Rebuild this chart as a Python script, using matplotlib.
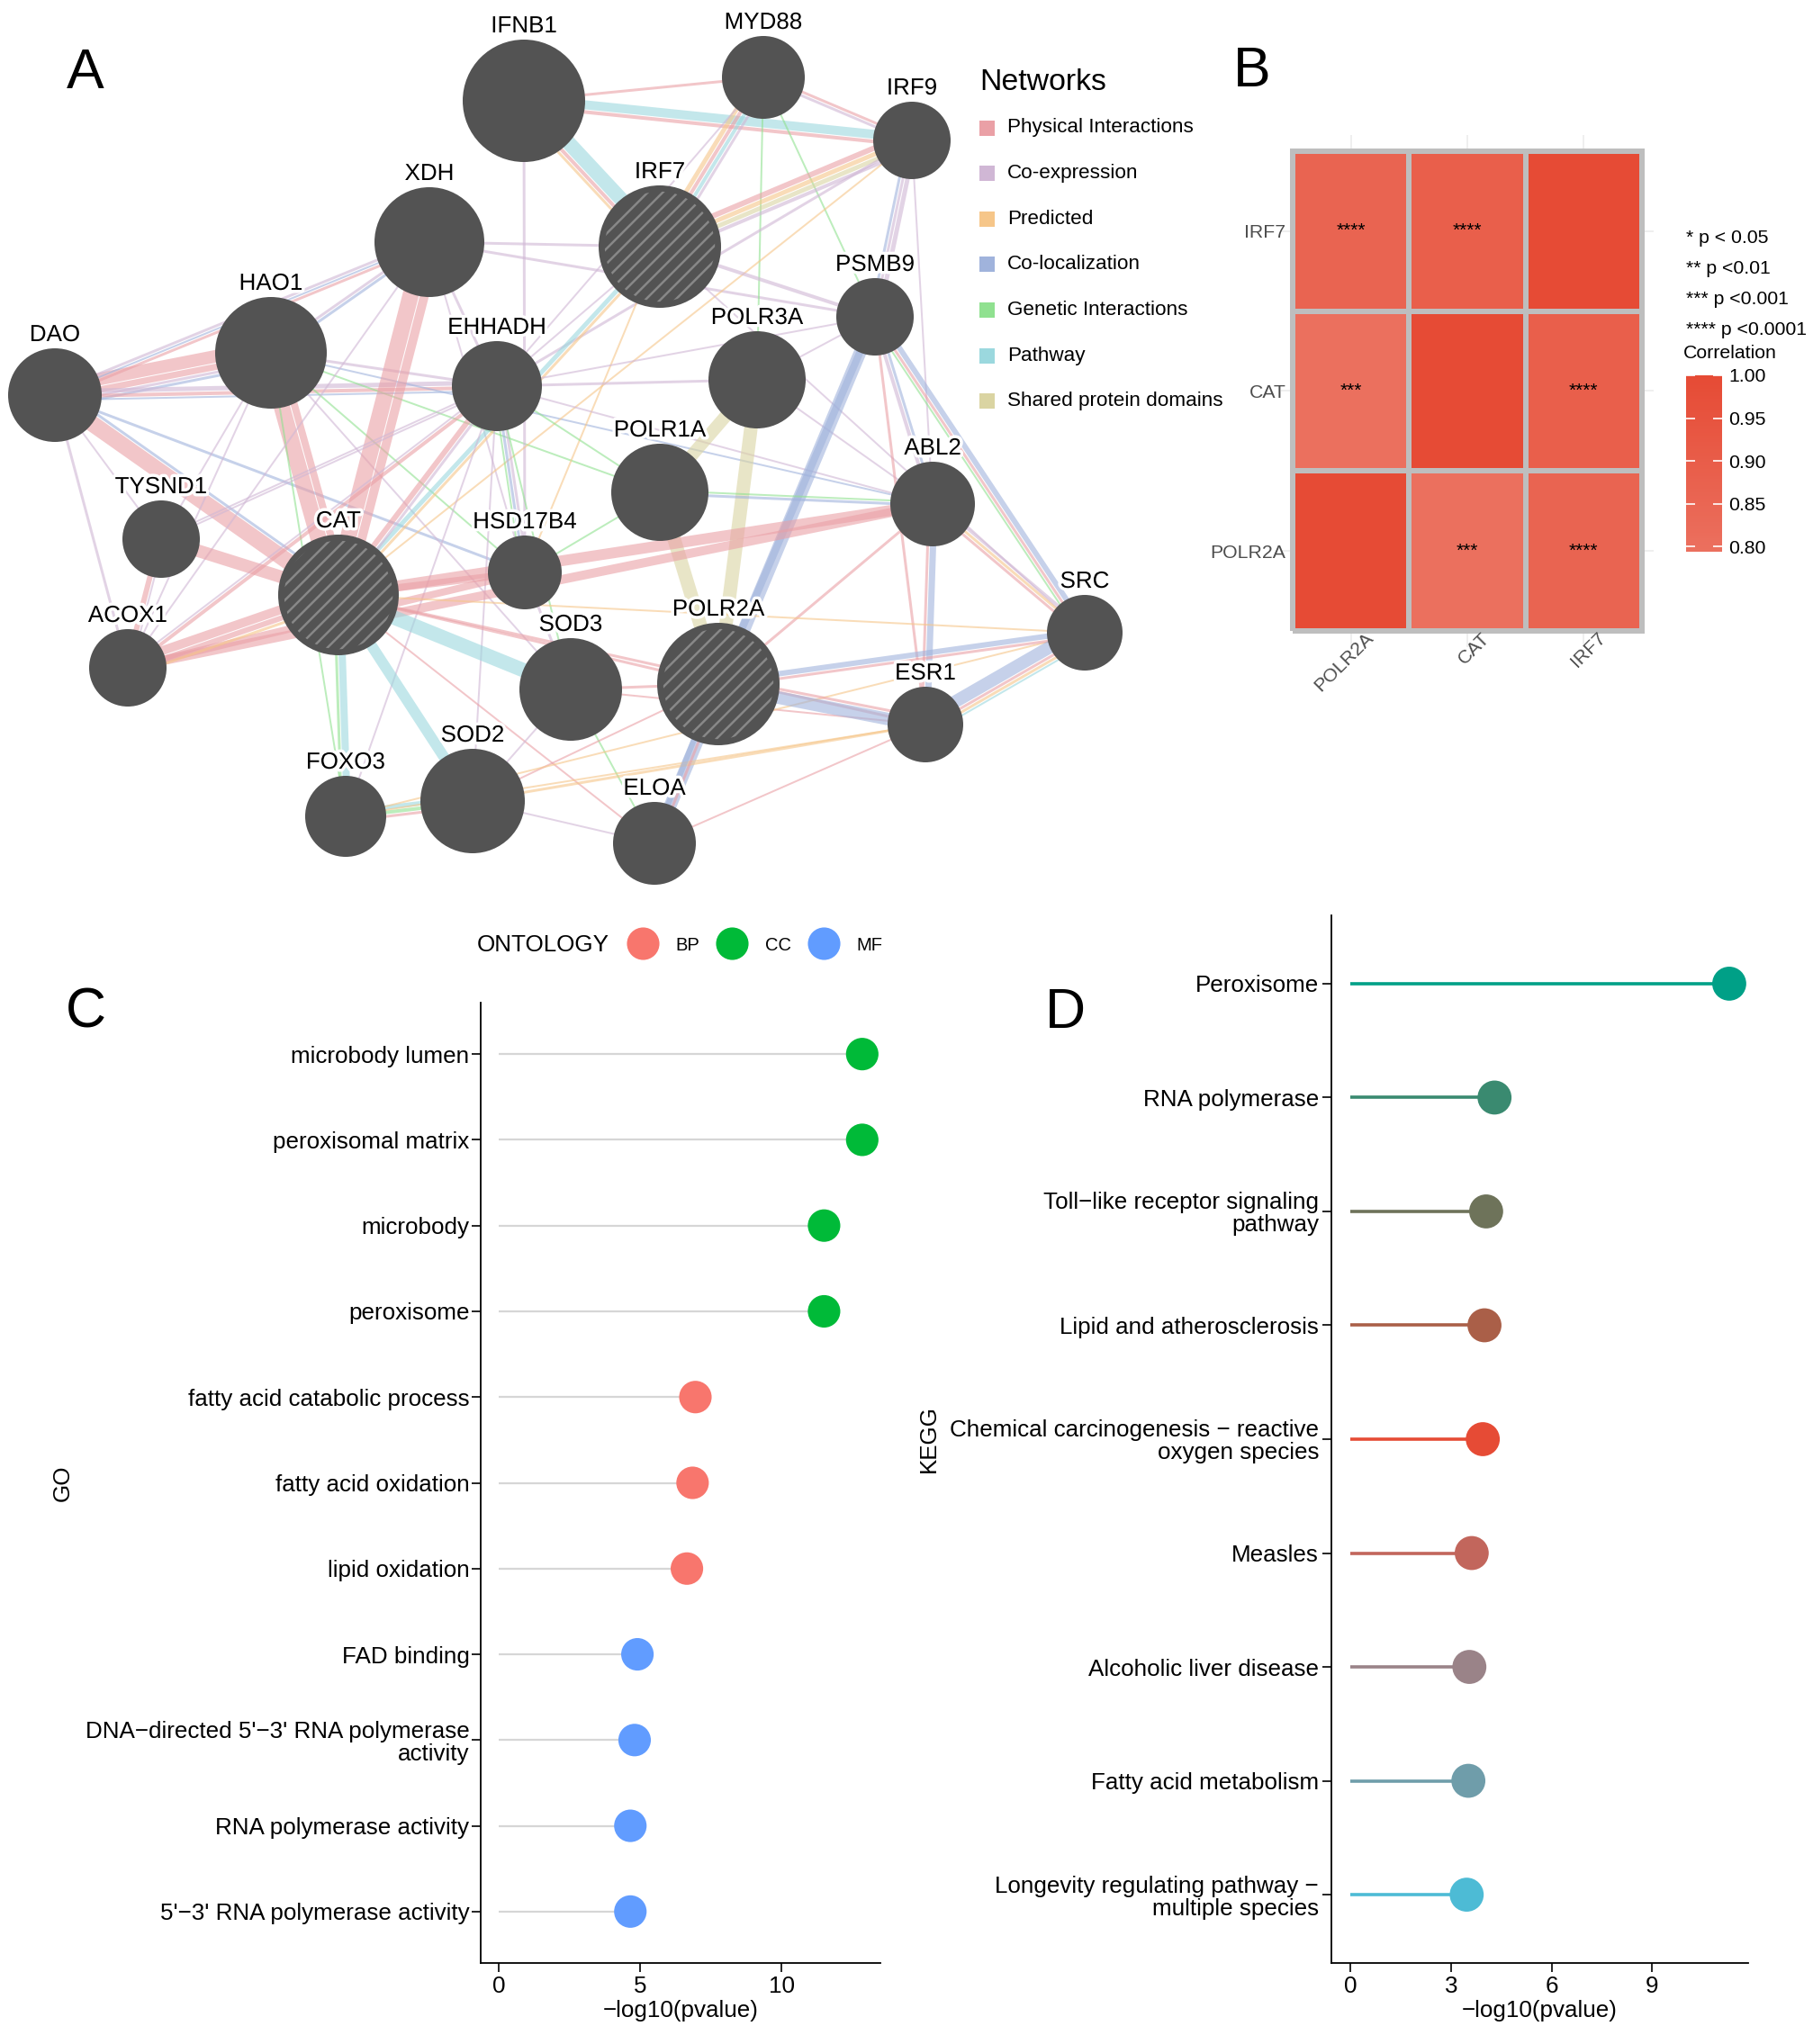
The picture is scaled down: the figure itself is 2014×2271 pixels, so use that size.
import numpy as np
import matplotlib
matplotlib.use("Agg")
import matplotlib.pyplot as plt
from matplotlib.patches import Circle, Rectangle
from matplotlib.colors import LinearSegmentedColormap, ListedColormap, Normalize
from matplotlib.lines import Line2D
import matplotlib.patheffects as pe
import matplotlib.transforms as mtransforms

plt.rcParams['font.family'] = ['Liberation Sans', 'DejaVu Sans']
plt.rcParams['hatch.linewidth'] = 1.8

W, H = 2015, 2271
DPI = 100
PT = 72.0 / DPI  # points per pixel

# ---------------- DATA ----------------
# Panel A: GeneMANIA network (layout positions in pixel units)
node_names = ["DAO", "HAO1", "XDH", "IFNB1", "MYD88", "IRF9", "IRF7", "EHHADH",
              "POLR3A", "PSMB9", "POLR1A", "ABL2", "TYSND1", "CAT", "HSD17B4",
              "SRC", "ACOX1", "SOD3", "POLR2A", "ESR1", "FOXO3", "SOD2", "ELOA"]
node_x = [61, 301, 477, 582, 848, 1013, 733, 552, 841, 972, 733, 1036, 179, 376,
          583, 1205, 142, 634, 798, 1028, 384, 525, 727]
node_y = [439, 392, 269, 112, 86, 156, 274, 429, 422, 352, 547, 560, 599, 661,
          636, 703, 742, 766, 760, 805, 907, 890, 937]
node_r = [52, 62, 61, 68, 46, 43, 68, 50, 54, 43, 54, 47, 43, 67, 41, 42, 43,
          57, 68, 42, 45, 58, 46]
query_genes = ["IRF7", "CAT", "POLR2A"]

network_types = ["Physical Interactions", "Co-expression", "Predicted",
                 "Co-localization", "Genetic Interactions", "Pathway",
                 "Shared protein domains"]
network_codes = ["P", "C", "R", "L", "G", "W", "S"]

# edges: (gene a, gene b, network code, weight in px)
edges = [
    ("DAO", "HAO1", "P", 14), ("DAO", "HAO1", "P", 7), ("DAO", "HAO1", "C", 3), ("DAO", "HAO1", "L", 3),
    ("DAO", "XDH", "C", 3), ("DAO", "XDH", "L", 2), ("DAO", "XDH", "P", 3),
    ("DAO", "EHHADH", "C", 5), ("DAO", "EHHADH", "P", 4), ("DAO", "EHHADH", "L", 2),
    ("DAO", "CAT", "P", 18), ("DAO", "CAT", "L", 3),
    ("DAO", "ACOX1", "C", 3), ("DAO", "TYSND1", "C", 2), ("DAO", "HSD17B4", "L", 3),
    ("HAO1", "XDH", "C", 3), ("HAO1", "XDH", "L", 3),
    ("HAO1", "CAT", "P", 18), ("HAO1", "CAT", "P", 8),
    ("HAO1", "EHHADH", "C", 3), ("HAO1", "HSD17B4", "G", 2), ("HAO1", "FOXO3", "G", 2),
    ("HAO1", "ACOX1", "C", 2), ("HAO1", "POLR1A", "G", 2), ("HAO1", "ABL2", "L", 2),
    ("HAO1", "TYSND1", "C", 2), ("HAO1", "SOD3", "C", 2),
    ("XDH", "CAT", "P", 18), ("XDH", "CAT", "P", 10),
    ("XDH", "EHHADH", "C", 3), ("XDH", "IRF7", "C", 3), ("XDH", "PSMB9", "C", 3),
    ("XDH", "HSD17B4", "C", 2), ("XDH", "ACOX1", "C", 2),
    ("IFNB1", "IRF7", "W", 16), ("IFNB1", "IRF7", "P", 4), ("IFNB1", "IRF7", "R", 3),
    ("IFNB1", "IRF9", "W", 10), ("IFNB1", "IRF9", "P", 4), ("IFNB1", "MYD88", "P", 3),
    ("IFNB1", "HSD17B4", "C", 3),
    ("MYD88", "IRF7", "R", 5), ("MYD88", "IRF7", "P", 4), ("MYD88", "IRF7", "W", 4), ("MYD88", "IRF7", "C", 3),
    ("MYD88", "IRF9", "C", 3), ("MYD88", "IRF9", "P", 3),
    ("MYD88", "POLR3A", "G", 2), ("MYD88", "PSMB9", "G", 2), ("MYD88", "EHHADH", "C", 2),
    ("IRF9", "IRF7", "P", 6), ("IRF9", "IRF7", "R", 5), ("IRF9", "IRF7", "S", 5), ("IRF9", "IRF7", "C", 4),
    ("IRF9", "PSMB9", "C", 5), ("IRF9", "PSMB9", "C", 3), ("IRF9", "PSMB9", "L", 3),
    ("IRF9", "ABL2", "C", 2), ("IRF9", "EHHADH", "C", 3), ("IRF9", "CAT", "R", 2),
    ("IRF7", "PSMB9", "C", 4), ("IRF7", "CAT", "W", 5), ("IRF7", "CAT", "R", 3),
    ("IRF7", "HSD17B4", "R", 2), ("IRF7", "EHHADH", "C", 2), ("IRF7", "SRC", "C", 2),
    ("EHHADH", "CAT", "P", 6), ("EHHADH", "CAT", "C", 3),
    ("EHHADH", "HSD17B4", "C", 3), ("EHHADH", "HSD17B4", "L", 3), ("EHHADH", "HSD17B4", "G", 2),
    ("EHHADH", "ACOX1", "C", 2), ("EHHADH", "ACOX1", "P", 4), ("EHHADH", "TYSND1", "C", 2),
    ("EHHADH", "POLR3A", "C", 3), ("EHHADH", "POLR1A", "G", 2), ("EHHADH", "SOD3", "G", 2),
    ("EHHADH", "SOD2", "C", 2), ("EHHADH", "ABL2", "C", 2), ("EHHADH", "PSMB9", "C", 2),
    ("EHHADH", "FOXO3", "C", 2),
    ("POLR3A", "POLR1A", "S", 14), ("POLR3A", "POLR2A", "S", 15), ("POLR1A", "POLR2A", "S", 15),
    ("POLR3A", "PSMB9", "C", 2), ("POLR3A", "ABL2", "C", 2),
    ("PSMB9", "ELOA", "L", 14), ("PSMB9", "POLR2A", "L", 8),
    ("PSMB9", "ABL2", "C", 4), ("PSMB9", "ABL2", "L", 3),
    ("PSMB9", "SRC", "L", 6), ("PSMB9", "SRC", "P", 3), ("PSMB9", "SRC", "G", 2),
    ("PSMB9", "ESR1", "P", 3),
    ("ABL2", "SRC", "C", 3), ("ABL2", "SRC", "R", 3), ("ABL2", "SRC", "P", 3),
    ("ABL2", "ESR1", "L", 7), ("ABL2", "ESR1", "P", 3),
    ("ABL2", "CAT", "P", 12), ("ABL2", "ACOX1", "P", 10),
    ("ABL2", "POLR1A", "L", 3), ("ABL2", "POLR1A", "G", 2), ("ABL2", "POLR2A", "P", 3),
    ("HSD17B4", "CAT", "P", 8), ("HSD17B4", "SOD3", "C", 3), ("HSD17B4", "POLR1A", "G", 2),
    ("HSD17B4", "ACOX1", "P", 8),
    ("ACOX1", "CAT", "P", 10), ("ACOX1", "CAT", "P", 6), ("ACOX1", "CAT", "R", 3),
    ("ACOX1", "TYSND1", "P", 6), ("ACOX1", "TYSND1", "C", 2),
    ("TYSND1", "CAT", "P", 14), ("TYSND1", "EHHADH", "C", 2),
    ("CAT", "SOD3", "W", 16), ("CAT", "SOD2", "W", 12), ("CAT", "FOXO3", "W", 8), ("CAT", "FOXO3", "G", 3),
    ("CAT", "ESR1", "P", 3), ("CAT", "SRC", "R", 2), ("CAT", "POLR2A", "P", 3), ("CAT", "ELOA", "P", 2),
    ("SOD3", "POLR2A", "P", 3), ("SOD3", "SOD2", "C", 2), ("SOD3", "ELOA", "G", 2),
    ("SOD3", "ESR1", "P", 2),
    ("SOD2", "FOXO3", "W", 5), ("SOD2", "FOXO3", "G", 4), ("SOD2", "FOXO3", "P", 3),
    ("SOD2", "ESR1", "R", 3), ("SOD2", "ELOA", "C", 2), ("SOD2", "POLR2A", "P", 2),
    ("FOXO3", "ESR1", "R", 2), ("FOXO3", "SRC", "R", 2),
    ("POLR2A", "ESR1", "L", 14), ("POLR2A", "ESR1", "P", 3),
    ("POLR2A", "SRC", "L", 6), ("POLR2A", "SRC", "P", 3),
    ("ESR1", "SRC", "L", 14), ("ESR1", "SRC", "P", 3), ("ESR1", "SRC", "R", 3), ("ESR1", "SRC", "W", 2),
    ("ELOA", "POLR2A", "L", 6), ("ELOA", "POLR2A", "P", 3), ("ELOA", "ESR1", "P", 2),
]

# Panel B: correlation heatmap
corr_genes = ["POLR2A", "CAT", "IRF7"]
corr_values = [[1.000, 0.794, 0.860],
               [0.794, 1.000, 0.890],
               [0.860, 0.890, 1.000]]
corr_signif = [["", "***", "****"],
               ["***", "", "****"],
               ["****", "****", ""]]
corr_ticks = [0.80, 0.85, 0.90, 0.95, 1.00]
pval_legend = ["* p < 0.05", "** p <0.01", "*** p <0.001", "**** p <0.0001"]

# Panel C: GO enrichment (top to bottom)
go_terms = ["microbody lumen", "peroxisomal matrix", "microbody", "peroxisome",
            "fatty acid catabolic process", "fatty acid oxidation", "lipid oxidation",
            "FAD binding", "DNA\u2212directed 5'\u22123' RNA polymerase\nactivity",
            "RNA polymerase activity", "5'\u22123' RNA polymerase activity"]
go_values = [12.85, 12.85, 11.5, 11.5, 6.95, 6.85, 6.65, 4.9, 4.8, 4.65, 4.65]
go_ontology = ["CC", "CC", "CC", "CC", "BP", "BP", "BP", "MF", "MF", "MF", "MF"]
go_xticks = [0, 5, 10]

# Panel D: KEGG enrichment (top to bottom)
kegg_terms = ["Peroxisome", "RNA polymerase", "Toll\u2212like receptor signaling\npathway",
              "Lipid and atherosclerosis", "Chemical carcinogenesis \u2212 reactive\noxygen species",
              "Measles", "Alcoholic liver disease", "Fatty acid metabolism",
              "Longevity regulating pathway \u2212\nmultiple species"]
kegg_values = [11.3, 4.3, 4.05, 4.0, 3.95, 3.62, 3.55, 3.52, 3.47]
kegg_xticks = [0, 3, 6, 9]

# ---------------- STYLES ----------------
net_colors = {"P": "#EAA0A6", "C": "#D0B7D5", "R": "#F6C689", "L": "#A0B3DC",
              "G": "#90E190", "W": "#9BD8DE", "S": "#DAD4A2"}
ont_colors = {"BP": "#F8766D", "CC": "#00BA38", "MF": "#619CFF"}
kegg_colors = ["#00A087", "#3A8A70", "#6E735A", "#AA5F48", "#E64B35",
               "#C2665C", "#9A8388", "#6F9DAA", "#4DBBD5"]
NODE_COLOR = "#535353"
TXT = 18.7


def rect(x0, y0, x1, y1):
    return [x0 / W, 1 - y1 / H, (x1 - x0) / W, (y1 - y0) / H]


def ftext(x, y, s, **kw):
    return fig.text(x / W, 1 - y / H, s, **kw)


fig = plt.figure(figsize=(W / DPI, H / DPI), dpi=DPI)

# ================= Panel A =================
axn = fig.add_axes([0, 0, 1, 1])
axn.set_xlim(0, W)
axn.set_ylim(H, 0)
axn.axis('off')
axn.patch.set_alpha(0)

pos = {n: (x, y) for n, x, y in zip(node_names, node_x, node_y)}
rad = {n: r for n, r in zip(node_names, node_r)}

groups = {}
for a, b, t, w in edges:
    key = tuple(sorted((a, b)))
    groups.setdefault(key, []).append((a, b, t, w))

GAP = 1.0
for key, lst in groups.items():
    (x1, y1), (x2, y2) = pos[key[0]], pos[key[1]]
    dx, dy = x2 - x1, y2 - y1
    L = np.hypot(dx, dy)
    nx, ny = -dy / L, dx / L
    total = sum(e[3] for e in lst) + GAP * (len(lst) - 1)
    start = -total / 2
    for a, b, t, w in lst:
        off = start + w / 2
        start += w + GAP
        axn.plot([x1 + nx * off, x2 + nx * off], [y1 + ny * off, y2 + ny * off],
                 color=net_colors[t], lw=w * PT, alpha=0.6,
                 solid_capstyle='butt', zorder=1)

for n in node_names:
    x, y = pos[n]
    r = rad[n]
    axn.add_patch(Circle((x, y), r, facecolor=NODE_COLOR, edgecolor='none', zorder=3))
    if n in query_genes:
        axn.add_patch(Circle((x, y), r * 0.9, facecolor='none', edgecolor='#888888',
                             lw=0, hatch='//', zorder=4))
    axn.text(x, y - r - 15, n, ha='center', va='center', fontsize=TXT, color='black',
             zorder=5, path_effects=[pe.withStroke(linewidth=5, foreground='white')])

# Networks legend
ftext(1088, 92, "Networks", ha='left', va='center', fontsize=24.4, color='black')
for i, (name, code) in enumerate(zip(network_types, network_codes)):
    yc = 142 + i * 50.6
    axn.add_patch(Rectangle((1088, yc - 8.5), 17, 17, facecolor=net_colors[code],
                            edgecolor='none', zorder=3))
    axn.text(1119, yc, name, ha='left', va='center', fontsize=16.2, color='black', zorder=5)

# panel letters
for letter, (lx, ly) in zip("ABCD", [(95, 81), (1391, 80), (95, 1125), (1183, 1125)]):
    ftext(lx, ly, letter, ha='center', va='center', fontsize=45, color='black')

# ================= Panel B =================
axb = fig.add_axes(rect(1423, 150, 1837, 719))
axb.patch.set_alpha(0)
corr = np.array(corr_values)
lo = corr.min()
base = LinearSegmentedColormap.from_list("wr", ["#FFFFFF", "#E64B35"])
cmap = ListedColormap(base(np.linspace(lo, 1.0, 256)))
norm = Normalize(vmin=lo, vmax=1.0)
n = len(corr_genes)
edges_xy = np.arange(n + 1) + 0.5
mesh = axb.pcolormesh(edges_xy, edges_xy, corr, cmap=cmap, norm=norm,
                      edgecolors='#BEBEBE', linewidth=6 * PT, zorder=2)
for i in range(n):
    for j in range(n):
        if corr_signif[i][j]:
            axb.text(j + 1, i + 1, corr_signif[i][j], ha='center', va='center',
                     fontsize=15, color='black', zorder=3)
axb.set_xlim(0.4, n + 0.6)
axb.set_ylim(0.4, n + 0.6)
axb.set_xticks(np.arange(1, n + 1))
axb.set_yticks(np.arange(1, n + 1))
axb.set_yticklabels(corr_genes, fontsize=15.3, color='#4D4D4D')
axb.set_xticklabels([])
xlab_tr = axb.get_xaxis_transform() + mtransforms.ScaledTranslation(
    15 / DPI, 20 / DPI, fig.dpi_scale_trans)
for j, g in enumerate(corr_genes):
    axb.text(j + 1, 0, g, transform=xlab_tr, rotation=45, rotation_mode='anchor',
             ha='right', va='top', fontsize=15.3, color='#4D4D4D', clip_on=False)
axb.tick_params(axis='x', length=0, pad=3)
axb.tick_params(axis='y', length=0, pad=-4)
axb.grid(True, color='#EBEBEB', lw=1.1, zorder=0)
axb.set_axisbelow(True)
for s in axb.spines.values():
    s.set_visible(False)

cax = fig.add_axes(rect(1873, 417, 1913, 613))
cb = fig.colorbar(mesh, cax=cax)
cb.outline.set_visible(False)
cb.set_ticks(corr_ticks)
cb.set_ticklabels(["%.2f" % t for t in corr_ticks])
cax.tick_params(axis='y', direction='in', length=7, width=1.2, color='white',
                left=True, right=True, labelleft=False, labelright=True,
                labelsize=15.3, pad=5)
ftext(1870, 393, "Correlation", ha='left', va='center', fontsize=15.3, color='black')
for k, s in enumerate(pval_legend):
    ftext(1873, 265 + k * 34, s, ha='left', va='center', fontsize=15.3, color='black')

# ================= Panel C =================
axc = fig.add_axes(rect(534, 1114, 978, 2181))
axc.patch.set_alpha(0)
ng = len(go_terms)
yc = np.arange(ng, 0, -1)
axc.hlines(yc, 0, go_values, color='#D6D6D6', lw=1.6, zorder=1)
axc.scatter(go_values, yc, s=676, c=[ont_colors[o] for o in go_ontology],
            edgecolors='none', zorder=2)
xmax = max(go_values)
axc.set_xlim(-0.05 * xmax, 1.05 * xmax)
axc.set_ylim(0.4, ng + 0.6)
axc.set_yticks(yc)
axc.set_yticklabels(go_terms, fontsize=TXT, linespacing=1.05)
axc.set_xticks(go_xticks)
axc.tick_params(axis='x', labelsize=TXT, length=7 * PT * 1.4, width=1.2, pad=3)
axc.tick_params(axis='y', length=7 * PT * 1.4, width=1.2, pad=2)
axc.set_xlabel("\u2212log10(pvalue)", fontsize=TXT, labelpad=2)
axc.set_ylabel("GO", fontsize=TXT)
axc.yaxis.set_label_coords((82 - 534) / 444, 0.5)
for s in ['top', 'right']:
    axc.spines[s].set_visible(False)
for s in ['left', 'bottom']:
    axc.spines[s].set_linewidth(1.3)

ftext(677, 1050, "ONTOLOGY", ha='right', va='center', fontsize=TXT, color='black')
handles = [Line2D([], [], marker='o', ls='', markersize=26, markerfacecolor=ont_colors[k],
                  markeredgecolor='none') for k in ["BP", "CC", "MF"]]
fig.legend(handles, ["BP", "CC", "MF"], ncol=3, loc='center left',
           bbox_to_anchor=(696 / W, 1 - 1050 / H), frameon=False, fontsize=14.5,
           handlelength=1.8, handletextpad=0.9, columnspacing=0.9,
           borderpad=0, borderaxespad=0)

# ================= Panel D =================
axd = fig.add_axes(rect(1479, 1017, 1942, 2181))
axd.patch.set_alpha(0)
nk = len(kegg_terms)
yk = np.arange(nk, 0, -1)
for yy, v, col in zip(yk, kegg_values, kegg_colors):
    axd.hlines(yy, 0, v, color=col, lw=2.6, zorder=1)
axd.scatter(kegg_values, yk, s=740, c=kegg_colors, edgecolors='none', zorder=2)
xmax = max(kegg_values)
axd.set_xlim(-0.05 * xmax, 1.05 * xmax)
axd.set_ylim(0.4, nk + 0.6)
axd.set_yticks(yk)
axd.set_yticklabels(kegg_terms, fontsize=TXT, linespacing=1.05)
axd.set_xticks(kegg_xticks)
axd.tick_params(axis='x', labelsize=TXT, length=7 * PT * 1.4, width=1.2, pad=3)
axd.tick_params(axis='y', length=7 * PT * 1.4, width=1.2, pad=3)
axd.set_xlabel("\u2212log10(pvalue)", fontsize=TXT, labelpad=2)
axd.set_ylabel("KEGG", fontsize=TXT)
axd.yaxis.set_label_coords((1044 - 1479) / 463, 0.5)
for s in ['top', 'right']:
    axd.spines[s].set_visible(False)
for s in ['left', 'bottom']:
    axd.spines[s].set_linewidth(1.3)

fig.savefig("out.png", dpi=DPI, facecolor='white')
